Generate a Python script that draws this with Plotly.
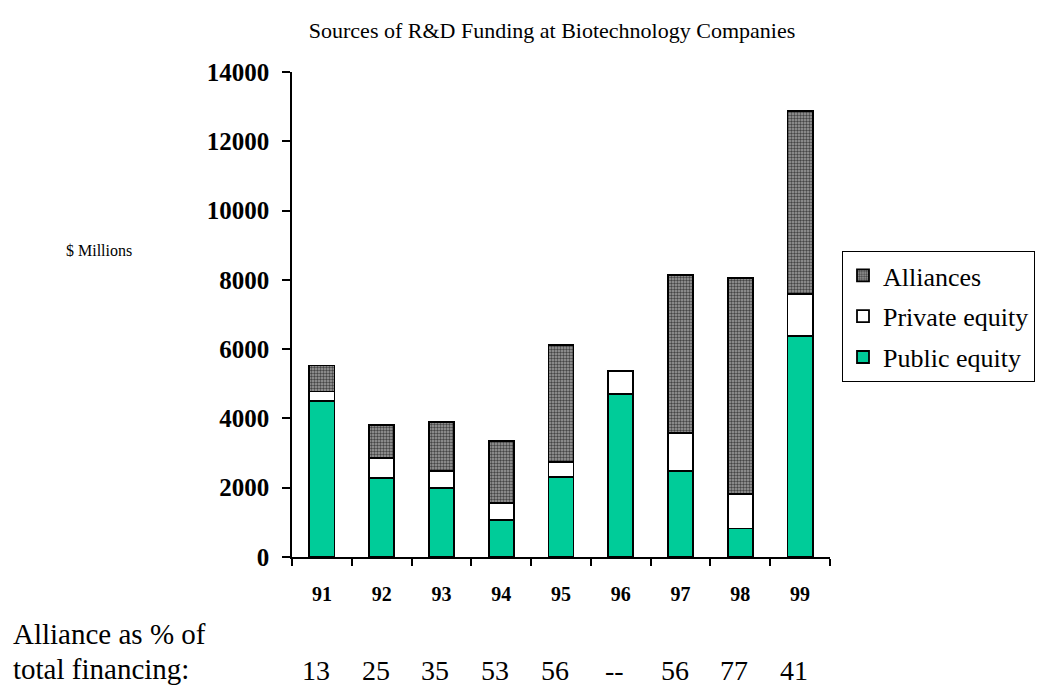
import plotly.graph_objects as go

years = ["91", "92", "93", "94", "95", "96", "97", "98", "99"]
public_equity = [4500, 2290, 2000, 1060, 2300, 4700, 2490, 820, 6380]
private_equity = [280, 570, 490, 490, 440, 670, 1100, 1010, 1220]
alliances = [750, 950, 1400, 1810, 3390, 0, 4550, 6220, 5280]
alliance_pct = ["13", "25", "35", "53", "56", "--", "56", "77", "41"]
y_ticks = [0, 2000, 4000, 6000, 8000, 10000, 12000, 14000]

SERIF = "Liberation Serif"
line = dict(color="black", width=1.8)

fig = go.Figure()
fig.add_trace(go.Bar(x=years, y=public_equity, name="Public equity", legendgroup="c",
                     legendrank=3, marker=dict(color="#00CC99", line=line)))
fig.add_trace(go.Bar(x=years, y=private_equity, name="Private equity", legendgroup="b",
                     legendrank=2, marker=dict(color="white", line=line)))
fig.add_trace(go.Bar(x=years, y=alliances, name="Alliances", legendgroup="a",
                     legendrank=1,
                     marker=dict(color="#808080", line=line,
                                 pattern=dict(shape=".", size=3, solidity=0.5,
                                              fgcolor="#454545", bgcolor="#a0a0a0",
                                              fillmode="replace"))))

fig.update_layout(
    width=1039, height=688,
    barmode="stack", bargap=0.58,
    plot_bgcolor="white", paper_bgcolor="white",
    margin=dict(l=292, r=207, t=72, b=131),
    font=dict(family=SERIF, color="black"),
    title=dict(text="Sources of R&D Funding at Biotechnology Companies",
               font=dict(family=SERIF, size=22), x=552 / 1039, xanchor="center",
               y=1 - 30 / 688, yanchor="middle", xref="container", yref="container"),
    showlegend=True,
    legend=dict(traceorder="grouped", xref="container", yref="container",
                x=842 / 1039, y=1 - 251 / 688, xanchor="left", yanchor="top",
                bordercolor="black", borderwidth=1, bgcolor="white",
                font=dict(family=SERIF, size=26), tracegroupgap=4,
                itemwidth=30),
    xaxis=dict(type="category", showline=True, linecolor="black", linewidth=1.5,
               ticks="outside", tickson="boundaries", ticklen=7, tickcolor="black",
               tickwidth=1.5, ticklabelstandoff=18, tickangle=0,
               tickfont=dict(family=SERIF, size=20, weight="bold"),
               showgrid=False, zeroline=False),
    yaxis=dict(range=[0, 14000], tickvals=y_ticks, tickformat="d", showline=True,
               linecolor="black", linewidth=1.5, ticks="outside", ticklen=8,
               tickcolor="black", tickwidth=1.5, ticklabelstandoff=8,
               tickfont=dict(family=SERIF, size=25, weight="bold"),
               showgrid=False, zeroline=False),
)

annotations = [
    dict(text="$ Millions", xref="paper", yref="paper", x=(63 - 292) / 540,
         y=(557 - 250) / 485, xanchor="left", yanchor="middle", showarrow=False,
         font=dict(family=SERIF, size=16)),
    dict(text="Alliance as % of", xref="paper", yref="paper", x=(10 - 292) / 540,
         y=(557 - 634) / 485, xanchor="left", yanchor="middle", showarrow=False,
         font=dict(family=SERIF, size=29)),
    dict(text="total financing:", xref="paper", yref="paper", x=(10 - 292) / 540,
         y=(557 - 669) / 485, xanchor="left", yanchor="middle", showarrow=False,
         font=dict(family=SERIF, size=29)),
]
for i, p in enumerate(alliance_pct):
    annotations.append(dict(text=p, xref="x", yref="paper", x=i, xshift=-6,
                            y=(557 - 670) / 485, xanchor="center", yanchor="middle",
                            showarrow=False, font=dict(family=SERIF, size=28)))
fig.update_layout(annotations=annotations)

fig.write_html("out.html", config={"displayModeBar": False},
               post_script="document.body.style.margin='0';")
